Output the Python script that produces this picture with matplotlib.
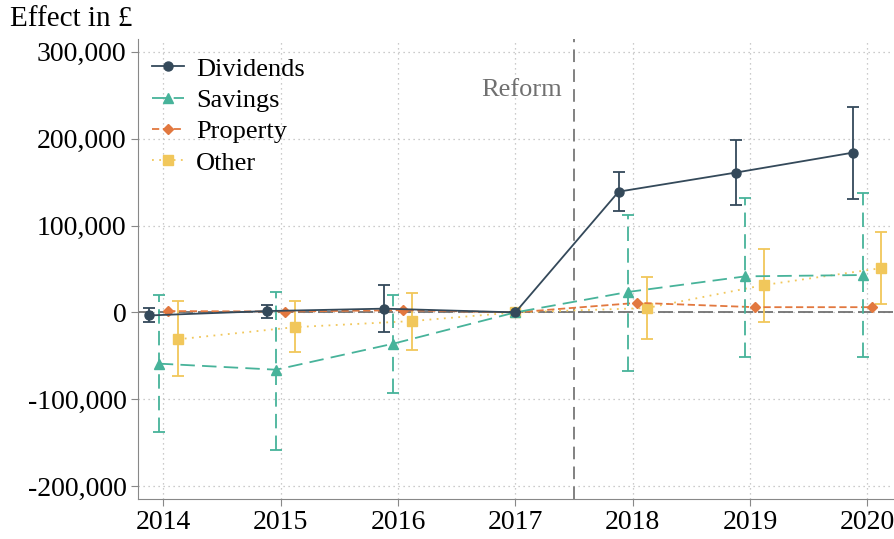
import matplotlib.pyplot as plt
from matplotlib.lines import Line2D
import numpy as np

years = [2014, 2015, 2016, 2017, 2018, 2019, 2020]

div = [-3500, 1500, 4300, 0, 139000, 161000, 184000]
div_lo = [-11500, -6000, -23000, 0, 116500, 123500, 131000]
div_hi = [4600, 8400, 31000, 0, 162000, 199000, 236000]

sav = [-59000, -66000, -36000, 0, 23500, 41500, 43000]
sav_lo = [-138000, -158000, -92500, 0, -67000, -51500, -51500]
sav_hi = [20000, 24000, 20000, 0, 112000, 132000, 137000]

prop = [1500, 1000, 2500, 0, 11000, 6000, 6000]

oth = [-31000, -17000, -10000, 0, 5000, 31500, 51000]
oth_lo = [-73000, -46000, -43000, 0, -31000, -10500, 10000]
oth_hi = [13000, 13000, 22000, 0, 40500, 73000, 92500]

series = [
    ("Dividends", div, div_lo, div_hi, -0.12, "#34495A", "o", "-", "-"),
    ("Savings", sav, sav_lo, sav_hi, -0.04, "#47B39A", "^", (0, (8, 4)), (0, (8, 4))),
    ("Property", prop, None, None, 0.04, "#E2783F", "D", (0, (4, 2)), "-"),
    ("Other", oth, oth_lo, oth_hi, 0.12, "#F1C75B", "s", (0, (1, 3)), "-"),
]

plt.rcParams['font.family'] = ['Liberation Serif', 'DejaVu Serif']

fig = plt.figure(figsize=(8.94, 5.39), dpi=100)
ax = fig.add_axes([0.154, 0.074, 0.845, 0.854])

handles = []
for i, (name, v, lo, hi, off, col, mk, ls, els) in enumerate(series):
    # the base year 2017 sits on the tick itself, other years are shifted
    x = np.array([yr if yr == 2017 else yr + off for yr in years], dtype=float)
    v = np.array(v, dtype=float)
    ms = 5 if mk == "D" else 6.5
    z = 10 - 2 * i
    ax.plot(x, v, color=col, marker=mk, ms=ms, ls=ls, lw=1.3, zorder=z)
    if lo is not None:
        yerr = [v - np.array(lo), np.array(hi) - v]
        eb = ax.errorbar(x, v, yerr=yerr, fmt="none", ecolor=col, elinewidth=1.3,
                         capsize=4, capthick=1.3, zorder=z - 1)
        eb[2][0].set_linestyle(els)
    handles.append(Line2D([], [], color=col, marker=mk, ms=ms, ls=ls, lw=1.3, label=name))

ax.axhline(0, color="#666666", lw=1.2, ls=(0, (9, 3)), zorder=1)
ax.axvline(2017.5, color="#777777", lw=1.3, ls=(0, (7, 4)), zorder=1)
ax.text(2017.4, 256000, "Reform", color="#707070", fontsize=19, ha="right", va="center")

ax.set_xlim(2013.78, 2020.22)
ax.set_ylim(-215000, 315000)
ax.set_xticks(years)
ax.set_yticks([-200000, -100000, 0, 100000, 200000, 300000])
ax.set_yticklabels(["-200,000", "-100,000", "0", "100,000", "200,000", "300,000"])
ax.tick_params(labelsize=20, color="#888888", length=5, pad=3)
ax.grid(True, ls=(0, (1, 3)), color="#bbbbbb", lw=0.9)
ax.set_axisbelow(True)
for s in ["top", "right"]:
    ax.spines[s].set_visible(False)
for s in ["left", "bottom"]:
    ax.spines[s].set_color("#888888")

fig.text(0.011, 0.965, "Effect in £", fontsize=21, ha="left", va="center")

ax.legend(handles=handles, loc="upper left", frameon=False, fontsize=19, handlelength=1.2,
          handletextpad=0.45, labelspacing=0.3, bbox_to_anchor=(-0.012, 1.012))

fig.savefig("out.png", dpi=100)
